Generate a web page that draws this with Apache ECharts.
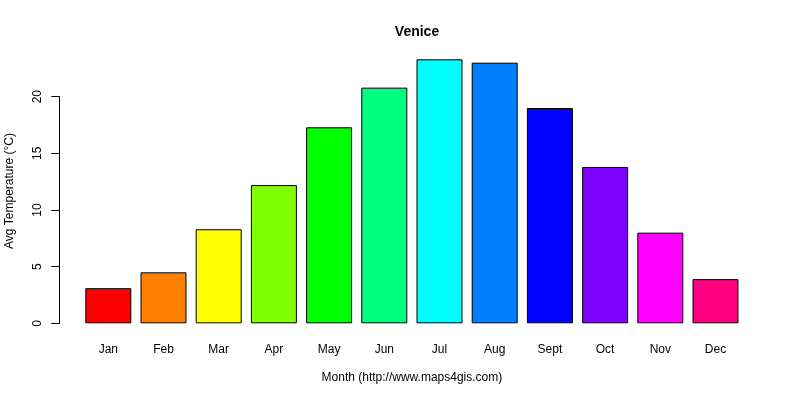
<!DOCTYPE html>
<html>
<head>
<meta charset="utf-8">
<script src="https://cdn.jsdelivr.net/npm/echarts@6/dist/echarts.min.js"></script>
<style>html,body{margin:0;padding:0;background:#fff;}#c{width:800px;height:400px;}</style>
</head>
<body>
<div id="c"></div>
<script>
var months = ['Jan','Feb','Mar','Apr','May','Jun','Jul','Aug','Sept','Oct','Nov','Dec'];
var avgTemp = [3.1, 4.5, 8.3, 12.2, 17.3, 20.8, 23.3, 23.0, 19.0, 13.8, 8.0, 3.9];
var barColors = ['#FF0000','#FF8000','#FFFF00','#80FF00','#00FF00','#00FF80','#00FFFF','#0080FF','#0000FF','#8000FF','#FF00FF','#FF0080'];
var yTicks = [0, 5, 10, 15, 20];

var FONT = 'Liberation Sans, Arial, sans-serif';
var chart = echarts.init(document.getElementById('c'), null, {renderer: 'canvas'});
chart.setOption({
  animation: false,
  backgroundColor: '#fff',
  title: {
    text: 'Venice',
    left: 412, top: 20, textAlign: 'center',
    textStyle: {fontFamily: FONT, fontSize: 14, fontWeight: 'bold', color: '#000'}
  },
  grid: {left: 80.7, right: 56.9, top: 96.7, bottom: 76.7, containLabel: false},
  xAxis: {
    type: 'category',
    data: months,
    axisLine: {show: false},
    axisTick: {show: false},
    axisLabel: {margin: 20, fontFamily: FONT, fontSize: 12, color: '#000'},
    name: 'Month (http://www.maps4gis.com)',
    nameLocation: 'middle',
    nameGap: 48,
    nameTextStyle: {fontFamily: FONT, fontSize: 12, color: '#000'}
  },
  yAxis: {
    type: 'value',
    min: yTicks[0], max: yTicks[yTicks.length - 1], interval: 5,
    offset: 21.4,
    splitLine: {show: false},
    axisLine: {show: true, lineStyle: {color: '#000', width: 1}},
    axisTick: {show: true, length: 8, lineStyle: {color: '#000'}},
    axisLabel: {rotate: 90, margin: 16, fontFamily: FONT, fontSize: 12, color: '#000'}
  },
  graphic: [{
    type: 'text',
    rotation: Math.PI / 2,
    x: 10, y: 191,
    style: {text: 'Avg Temperature (°C)', fontFamily: FONT, fontSize: 12, fill: '#000', textAlign: 'center', textVerticalAlign: 'middle'}
  }],
  series: [{
    type: 'bar',
    clip: false,
    barCategoryGap: '16.67%',
    data: avgTemp.map(function (v, i) {
      return {value: v, itemStyle: {color: barColors[i]}};
    }),
    itemStyle: {borderColor: '#000', borderWidth: 1}
  }]
});
</script>
</body>
</html>
